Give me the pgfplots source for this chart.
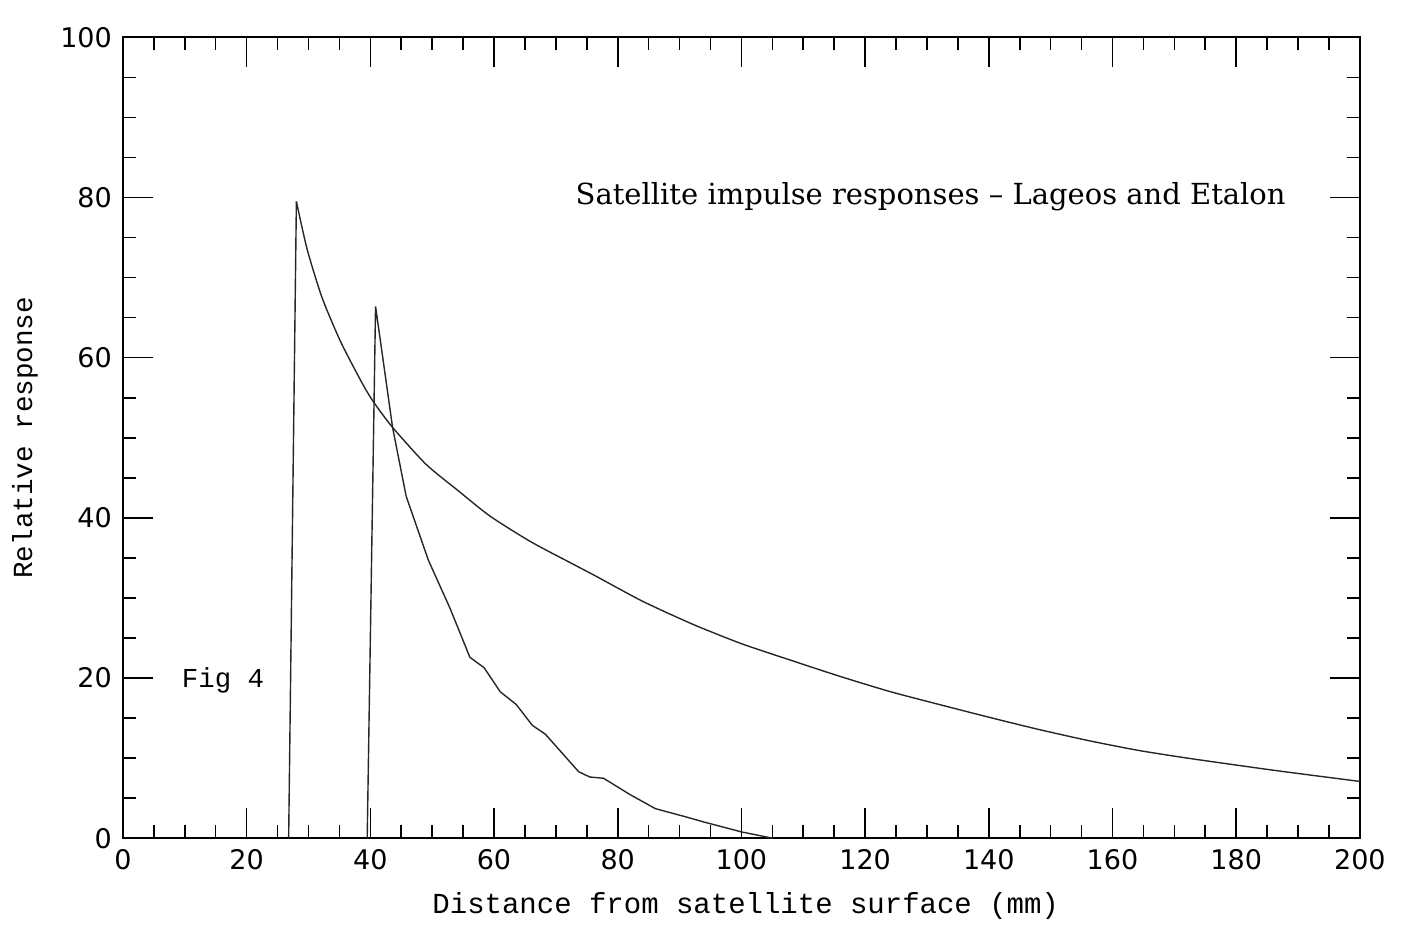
\documentclass[border=0pt]{standalone}
\usepackage{fontspec}
\usepackage{pgfplots}
\pgfplotsset{compat=1.18}
\newfontfamily\tickfont{DejaVu Sans}
\newfontfamily\monofont{Liberation Mono}
\newfontfamily\titlefont{DejaVu Serif}

\pgfplotstableread{
x y
26.8 0
28.05 79.5
}\lageosrise

\pgfplotstableread{
x y
28.05 79.5
29.8 73.5
32.2 67.5
35.2 62.0
38.7 56.8
40.5 54.5
43.6 51.3
49.0 46.7
54.2 43.4
59.4 40.2
66.0 37.0
73.1 34.1
76.3 32.8
84.0 29.6
92.2 26.7
100.0 24.3
108.1 22.2
116.0 20.2
124.1 18.3
132.0 16.7
140.1 15.1
148.0 13.6
156.1 12.2
164.0 11.0
172.2 10.0
186.0 8.5
200.0 7.1
}\lageos

\pgfplotstableread{
x y
39.5 0
40.85 66.4
43.6 51.3
45.8 42.7
49.4 34.7
52.9 28.7
56.1 22.6
58.4 21.3
61.0 18.3
63.6 16.7
66.2 14.1
68.3 13.0
73.7 8.3
75.5 7.65
77.7 7.5
81.9 5.5
86.1 3.7
90.9 2.7
94.1 2.0
100.0 0.8
105.1 0.0
}\etalon

\begin{document}
\begin{tikzpicture}
\useasboundingbox (-61.45pt,-49.95pt) rectangle (651.55pt,419.15pt);
\begin{axis}[
  at={(0pt,0pt)}, anchor=south west,
  scale only axis, width=618.5pt, height=400.5pt,
  xmin=0, xmax=200, ymin=0, ymax=100,
  xtick={0,20,...,200}, ytick={0,20,...,100},
  minor x tick num=3, minor y tick num=3,
  major tick length=15pt, minor tick length=6.5pt,
  tick align=inside,
  every tick/.style={black, line width=0.8pt},
  axis line style={line width=1pt},
  tick label style={font=\fontsize{13.5}{16}\selectfont\tickfont},
  /pgf/number format/assume math mode=true,
  xticklabel style={yshift=-2pt},
  yticklabel style={xshift=-2pt},
  xlabel={Distance from satellite surface (mm)},
  ylabel={Relative response},
  xlabel style={font=\monofont\fontsize{14.5}{17}\selectfont, at={(axis description cs:0.5035,-0.0844)}, anchor=center},
  ylabel style={font=\monofont\fontsize{13.8}{17}\selectfont, at={(axis description cs:-0.0792,0.5)}, anchor=center},
]
\addplot[black!85, line width=0.7pt, no markers] table[x=x,y=y] {\lageosrise};
\addplot[black!85, line width=0.7pt, no markers, smooth, tension=0.4] table[x=x,y=y] {\lageos};
\addplot[black!85, line width=0.7pt, no markers] table[x=x,y=y] {\etalon};
\node[font=\titlefont\fontsize{14.5}{17}\selectfont] at (axis cs:130.6,80.1) {Satellite impulse responses – Lageos and Etalon};
\node[font=\monofont\fontsize{13.7}{16}\selectfont] at (axis cs:16.2,19.7) {Fig 4};
\end{axis}
\end{tikzpicture}
\end{document}
